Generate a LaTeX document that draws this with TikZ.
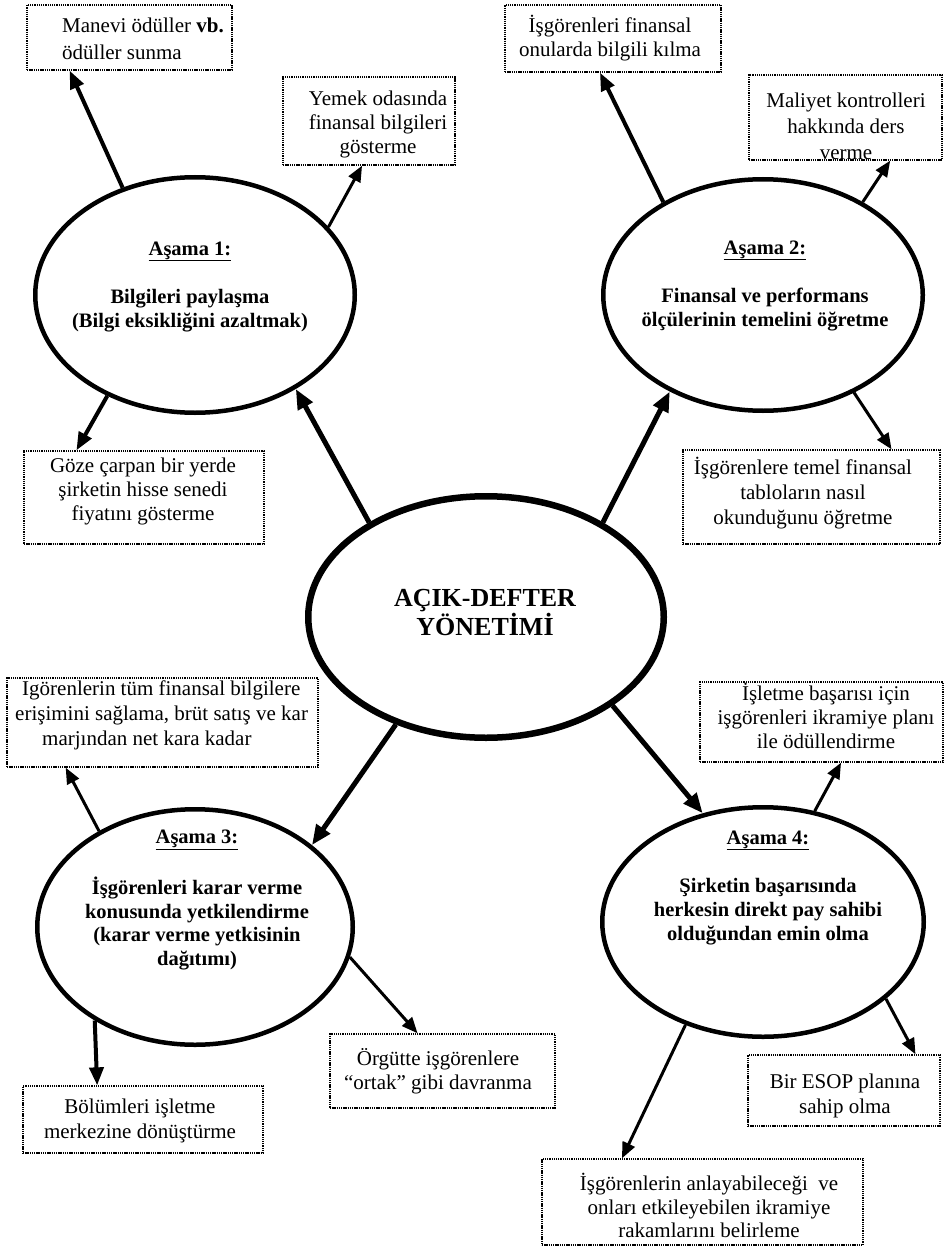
\documentclass[tikz,border=0pt]{standalone}
\usepackage{fontspec}
\setmainfont{Liberation Serif}
\usetikzlibrary{shapes.geometric,arrows.meta,calc}
\tikzset{
  stage/.style={ellipse, draw, line width=4.5pt, inner sep=0pt},
  core/.style={ellipse, draw, line width=6.5pt, inner sep=0pt},
  box/.style={draw, dash pattern=on 1.3pt off 0.9pt, line width=1.3pt, inner sep=0pt},
  lbl/.style={align=center, inner sep=0pt, font=\fontsize{21}{24}\selectfont},
  slbl/.style={align=center, inner sep=0pt, font=\fontsize{20.5}{24}\selectfont\bfseries},
  clbl/.style={align=center, inner sep=0pt, font=\fontsize{26}{29}\selectfont\bfseries},
  barr/.style={line width=5pt, -{Triangle[length=20pt,width=16pt]}},
  arr/.style={line width=4pt, -{Triangle[length=18pt,width=14pt]}},
  tarr/.style={line width=3pt, -{Triangle[length=16pt,width=13pt]}},
}
\begin{document}
\begin{tikzpicture}[x=1pt,y=1pt]
\useasboundingbox[fill=white] (0,0) rectangle (944,-1249);

% ellipses
\node[core,  minimum width=355.5pt, minimum height=241.5pt] (c)  at (486,-617) {};
\node[stage, minimum width=319.5pt, minimum height=235.5pt] (e1) at (195,-295) {};
\node[stage, minimum width=319.5pt, minimum height=231.5pt] (e2) at (763,-295) {};
\node[stage, minimum width=315.5pt, minimum height=235.5pt] (e3) at (195,-927) {};
\node[stage, minimum width=321.5pt, minimum height=229.5pt] (e4) at (763,-922) {};

% ellipse texts
\node[clbl] (ct) at (485,-612.5) {AÇIK-DEFTER\\YÖNETİMİ};
\node[slbl] (t1) at (190,-286.5) {\underline{Aşama 1:}\\[24pt]Bilgileri paylaşma\\(Bilgi eksikliğini azaltmak)};
\node[slbl] (t2) at (765,-285.5) {\underline{Aşama 2:}\\[24pt]Finansal ve performans\\ölçülerinin temelini öğretme};
\node[slbl, font=\fontsize{20.5}{23.5}\selectfont\bfseries] (t3) at (197,-900) {\underline{Aşama 3:}\\[26pt]İşgörenleri karar verme\\konusunda yetkilendirme\\(karar verme yetkisinin\\dağıtımı)};
\node[slbl] (t4) at (768,-887.5) {\underline{Aşama 4:}\\[24pt]Şirketin başarısında\\herkesin direkt pay sahibi\\olduğundan emin olma};

% boxes
\node[box, minimum width=205pt, minimum height=65pt] (b1)  at (129.5,-37.5) {};
\node[box, minimum width=172pt, minimum height=88pt] (b2)  at (369,-121) {};
\node[box, minimum width=216pt, minimum height=67pt] (b3)  at (613,-38.5) {};
\node[box, minimum width=193pt, minimum height=85pt] (b4)  at (845.5,-117.5) {};
\node[box, minimum width=240pt, minimum height=93pt] (b5)  at (144,-497.5) {};
\node[box, minimum width=257pt, minimum height=94pt] (b6)  at (811.5,-497) {};
\node[box, minimum width=311pt, minimum height=89pt] (b7)  at (162.5,-722.5) {};
\node[box, minimum width=225pt, minimum height=74pt] (b8)  at (442.5,-1071) {};
\node[box, minimum width=240pt, minimum height=67pt] (b9)  at (143,-1119.5) {};
\node[box, minimum width=243pt, minimum height=80pt] (b10) at (821.5,-722) {};
\node[box, minimum width=192pt, minimum height=71pt] (b11) at (844,-1090.5) {};
\node[box, minimum width=321pt, minimum height=86pt] (b12) at (702.5,-1202) {};

% box texts
\node[lbl, anchor=west, align=left] (l1) at (62,-38.5) {Manevi ödüller \textbf{vb.}\\[3pt]ödüller sunma};
\node[lbl] (l2) at (378,-124.5) {Yemek odasında\\finansal bilgileri\\gösterme};
\node[lbl] (l3) at (610,-38.5) {İşgörenleri finansal\\onularda bilgili kılma};
\node[lbl, font=\fontsize{21}{26}\selectfont] (l4) at (846,-126) {Maliyet kontrolleri\\hakkında ders\\verme};
\node[lbl] (l5) at (143,-491.5) {Göze çarpan bir yerde\\şirketin hisse senedi\\fiyatını gösterme};
\node[lbl, font=\fontsize{21}{25}\selectfont] (l6) at (803,-493) {İşgörenlere temel finansal\\tabloların nasıl\\okunduğunu öğretme};
\node[lbl, anchor=west, align=left, font=\fontsize{21}{25}\selectfont] (l7) at (15,-715) {\hspace*{7pt}Igörenlerin tüm finansal bilgilere\\erişimini sağlama, brüt satış ve kar\\\hspace*{27pt}marjından net kara kadar};
\node[lbl] (l8) at (438,-1071.5) {Örgütte işgörenlere\\“ortak” gibi davranma};
\node[lbl, font=\fontsize{21}{25}\selectfont] (l9) at (140,-1120.5) {Bölümleri işletme\\merkezine dönüştürme};
\node[lbl] (l10) at (826,-716) {İşletme başarısı için\\işgörenleri ikramiye planı\\ile ödüllendirme};
\node[lbl, font=\fontsize{21}{25}\selectfont] (l11) at (845,-1095.5) {Bir ESOP planına\\sahip olma};
\node[lbl, font=\fontsize{21}{23.5}\selectfont] (l12) at (709,-1205.5) {İşgörenlerin anlayabileceği\ \ ve\\onları etkileyebilen ikramiye\\rakamlarını belirleme};

% connectors: centre to stages
\draw[barr] (c.141) -- (e1.317);
\draw[barr] (c.39)  -- (e2.226);
\draw[barr] (c.230) -- (e3.35);
\draw[barr] (c.325) -- (e4.119);

% stage 1
\draw[arr]  (e1.124) -- ($(b1.south west)!0.21!(b1.south east)$);
\draw[tarr] (e1.27)  -- ($(b2.south west)!0.46!(b2.south east)$);
\draw[arr]  (e1.229) -- ($(b5.north west)!0.22!(b5.north east)$);
% stage 2
\draw[arr]  (e2.137) -- ($(b3.south west)!0.44!(b3.south east)$);
\draw[tarr] (e2.43)  -- ($(b4.south west)!0.73!(b4.south east)$);
\draw[tarr] (e2.313) -- ($(b6.north west)!0.81!(b6.north east)$);
% stage 3
\draw[tarr] (e3.135) -- ($(b7.south west)!0.19!(b7.south east)$);
\draw[arr]  (e3.223) -- ($(b9.north west)!0.31!(b9.north east)$);
\draw[tarr] (e3.349) -- ($(b8.north west)!0.39!(b8.north east)$);
% stage 4
\draw[tarr] (e4.65)  -- ($(b10.south west)!0.58!(b10.south east)$);
\draw[tarr] (e4.328) -- ($(b11.north west)!0.87!(b11.north east)$);
\draw[tarr] (e4.233) -- ($(b12.north west)!0.25!(b12.north east)$);
\end{tikzpicture}
\end{document}
